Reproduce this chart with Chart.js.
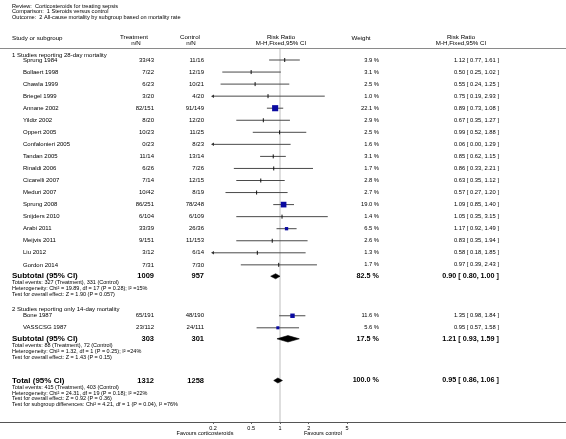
<!DOCTYPE html>
<html>
<head>
<meta charset="utf-8">
<script src="https://cdn.jsdelivr.net/npm/chart.js@4.4.1/dist/chart.umd.min.js"></script>
<style>
html, body { margin: 0; padding: 0; background: #fff; }
canvas { display: block; }
</style>
</head>
<body>
<canvas id="forest" width="566" height="439"></canvas>
<script>
// ---- data ----
const studies1 = ['Sprung 1984', 'Bollaert 1998', 'Chawla 1999', 'Briegel 1999', 'Annane 2002', 'Yildiz 2002',
  'Oppert 2005', 'Confalonieri 2005', 'Tandan 2005', 'Rinaldi 2006', 'Cicarelli 2007', 'Meduri 2007',
  'Sprung 2008', 'Snijders 2010', 'Arabi 2011', 'Meijvis 2011', 'Liu 2012', 'Gordon 2014'];
const treat1 = ['33/43', '7/22', '6/23', '3/20', '82/151', '8/20', '10/23', '0/23', '11/14', '6/26', '7/14', '10/42',
  '86/251', '6/104', '33/39', '9/151', '3/12', '7/31'];
const control1 = ['11/16', '12/19', '10/21', '4/20', '91/149', '12/20', '11/25', '8/23', '13/14', '7/26', '12/15', '8/19',
  '78/248', '6/109', '26/36', '11/153', '6/14', '7/30'];
const weight1 = [3.9, 3.1, 2.5, 1.0, 22.1, 2.9, 2.5, 1.6, 3.1, 1.7, 2.8, 2.7, 19.0, 1.4, 6.5, 2.6, 1.3, 1.7];
const rr1 = [1.12, 0.50, 0.55, 0.75, 0.89, 0.67, 0.99, 0.06, 0.85, 0.86, 0.63, 0.57, 1.09, 1.05, 1.17, 0.83, 0.58, 0.97];
const lo1 = [0.77, 0.25, 0.24, 0.19, 0.73, 0.35, 0.52, 0.00, 0.62, 0.33, 0.35, 0.27, 0.85, 0.35, 0.92, 0.35, 0.18, 0.39];
const hi1 = [1.61, 1.02, 1.25, 2.93, 1.08, 1.27, 1.88, 1.29, 1.15, 2.21, 1.12, 1.20, 1.40, 3.15, 1.49, 1.94, 1.85, 2.43];

const studies2 = ['Bone 1987', 'VASSCSG 1987'];
const treat2 = ['65/191', '23/112'];
const control2 = ['48/190', '24/111'];
const weight2 = [11.6, 5.6];
const rr2 = [1.35, 0.95];
const lo2 = [0.98, 0.57];
const hi2 = [1.84, 1.58];

const sumLabels = ['Subtotal (95% CI)', 'Subtotal (95% CI)', 'Total (95% CI)'];
const sumTreatN = [1009, 303, 1312];
const sumControlN = [957, 301, 1258];
const sumWeight = [82.5, 17.5, 100.0];
const sumRR = [0.90, 1.21, 0.95];
const sumLo = [0.80, 0.93, 0.86];
const sumHi = [1.00, 1.59, 1.06];

const stats1 = ['Total events: 327 (Treatment), 331 (Control)',
  'Heterogeneity: Chi\u00B2 = 19.89, df = 17 (P = 0.28); I\u00B2 =15%',
  'Test for overall effect: Z = 1.90 (P = 0.057)'];
const stats2 = ['Total events: 88 (Treatment), 72 (Control)',
  'Heterogeneity: Chi\u00B2 = 1.32, df = 1 (P = 0.25); I\u00B2 =24%',
  'Test for overall effect: Z = 1.43 (P = 0.15)'];
const statsTotal = ['Total events: 415 (Treatment), 403 (Control)',
  'Heterogeneity: Chi\u00B2 = 24.31, df = 19 (P = 0.18); I\u00B2 =22%',
  'Test for overall effect: Z = 0.92 (P = 0.36)',
  'Test for subgroup differences: Chi\u00B2 = 4.21, df = 1 (P = 0.04), I\u00B2 =76%'];

const xTicks = [0.2, 0.5, 1, 2, 5];

// ---- layout (row positions, page pixels) ----
const TOP = 48, BOTTOM = 422;
const STEP = 12.05, STAT = 5.8;
const ySec1 = 55.3;
const yRows1 = studies1.map((s, i) => 60 + i * STEP);
const ySub1 = yRows1[yRows1.length - 1] + 11.4;
const ySec2 = ySub1 + 6.7 + 2 * STAT + 15.2;
const yRows2 = studies2.map((s, i) => ySec2 + 6 + i * STEP);
const ySub2 = yRows2[yRows2.length - 1] + 11;
const yTotal = ySub2 + 6.5 + 2 * STAT + 23.6;
const ySums = [ySub1, ySub2, yTotal];

const X_MIN = xTicks[0], X_MAX = xTicks[xTicks.length - 1];
const FONT = '"Liberation Sans", Arial, sans-serif';

const allRR = rr1.concat(rr2), allLo = lo1.concat(lo2), allHi = hi1.concat(hi2);
const allW = weight1.concat(weight2), allY = yRows1.concat(yRows2);

// confidence interval segments, split by gaps
const ciPts = [];
allRR.forEach((r, i) => {
  ciPts.push({ x: Math.max(allLo[i], X_MIN), y: allY[i] });
  ciPts.push({ x: Math.min(allHi[i], X_MAX), y: allY[i] });
  ciPts.push({ x: null, y: null });
});
const estPts = allRR.map((r, i) => ({ x: r, y: allY[i], w: allW[i] })).filter(p => p.x >= X_MIN);
const arrowPts = allLo.map((l, i) => ({ x: X_MIN, y: allY[i] })).filter((p, i) => allLo[i] < X_MIN);

const diamonds = sumRR.map((r, k) => {
  const h = k === 1 ? 3.2 : 2.5;
  const y = ySums[k];
  return {
    data: [{ x: sumLo[k], y }, { x: r, y: y - h }, { x: sumHi[k], y }, { x: r, y: y + h }, { x: sumLo[k], y }],
    showLine: true, fill: 'shape', backgroundColor: '#000', borderColor: '#000', borderWidth: 0.6,
    pointRadius: 0, order: 1
  };
});

const isBox = c => c.raw && c.raw.w >= 5;

const textPlugin = {
  id: 'forestText',
  afterDraw(chart) {
    const g = chart.ctx;
    const Y = v => chart.scales.y.getPixelForValue(v);
    const put = (s, x, y, align, size, bold) => {
      g.font = (bold ? 'bold ' : '') + size + 'px ' + FONT;
      g.textAlign = align;
      g.fillText(s, x, Y(y));
    };
    g.save();
    g.fillStyle = '#000';
    g.textBaseline = 'middle';

    // title block
    g.font = '5.6px ' + FONT;
    g.textAlign = 'left';
    g.fillText('Review:  Corticosteroids for treating sepsis', 12, 6);
    g.fillText('Comparison:  1 Steroids versus control', 12, 11.5);
    g.fillText('Outcome:  2 All-cause mortality by subgroup based on mortality rate', 12, 17);

    // column headers
    g.font = '6.2px ' + FONT;
    g.fillText('Study or subgroup', 12, 38.5);
    g.textAlign = 'center';
    g.fillText('Treatment', 134, 37.7); g.fillText('n/N', 136, 43.5);
    g.fillText('Control', 190, 37.7); g.fillText('n/N', 191, 43.5);
    g.fillText('Risk Ratio', 281, 37.7); g.fillText('M-H,Fixed,95% CI', 281, 43.5);
    g.fillText('Weight', 361, 38.5);
    g.fillText('Risk Ratio', 461, 37.7); g.fillText('M-H,Fixed,95% CI', 461, 43.5);

    // separator and bottom axis line
    g.strokeStyle = '#8a8a8a'; g.lineWidth = 1;
    g.beginPath(); g.moveTo(0, 48.5); g.lineTo(566, 48.5); g.stroke();
    g.strokeStyle = '#555';
    g.beginPath(); g.moveTo(0, chart.chartArea.bottom + 0.5); g.lineTo(566, chart.chartArea.bottom + 0.5); g.stroke();

    // section headers
    put('1 Studies reporting 28-day mortality', 12, ySec1, 'left', 6);
    put('2 Studies reporting only 14-day mortality', 12, ySec2, 'left', 6);

    const ciText = (r, l, h) => r.toFixed(2) + ' [ ' + l.toFixed(2) + ', ' + h.toFixed(2) + ' ]';
    const rowText = (names, tr, co, w, r, l, h, ys) => names.forEach((n, i) => {
      put(n, 23, ys[i], 'left', 6);
      put(tr[i], 154, ys[i], 'right', 6);
      put(co[i], 204, ys[i], 'right', 6);
      put(w[i].toFixed(1) + ' %', 379, ys[i], 'right', 5.8);
      put(ciText(r[i], l[i], h[i]), 499, ys[i], 'right', 5.8);
    });
    rowText(studies1, treat1, control1, weight1, rr1, lo1, hi1, yRows1);
    rowText(studies2, treat2, control2, weight2, rr2, lo2, hi2, yRows2);

    // summary rows
    sumLabels.forEach((s, k) => {
      const y = ySums[k];
      put(s, 12, y, 'left', 8, true);
      put(String(sumTreatN[k]), 154, y, 'right', 7.5, true);
      put(String(sumControlN[k]), 204, y, 'right', 7.5, true);
      put(sumWeight[k].toFixed(1) + ' %', 379, y, 'right', 7.2, true);
      put(ciText(sumRR[k], sumLo[k], sumHi[k]), 499, y, 'right', 7.2, true);
    });
    [stats1, stats2, statsTotal].forEach((lines, k) => {
      lines.forEach((s, j) => put(s, 12, ySums[k] + 6.7 + j * STAT, 'left', 5.5));
    });

    // favours labels
    const xs = chart.scales.x;
    g.font = '5.5px ' + FONT;
    g.textAlign = 'center';
    g.fillText('Favours corticosteroids', xs.getPixelForValue(X_MIN) - 8, 433);
    g.textAlign = 'left';
    g.fillText('Favours control', xs.getPixelForValue(1) + 24, 433);
    g.restore();
  }
};

new Chart(document.getElementById('forest'), {
  type: 'scatter',
  data: {
    datasets: [
      { // line of no effect
        data: [{ x: 1, y: TOP }, { x: 1, y: BOTTOM }], showLine: true,
        borderColor: '#d4d4d4', borderWidth: 1.5, pointRadius: 0, order: 10
      },
      { // confidence intervals
        data: ciPts, showLine: true, spanGaps: false,
        borderColor: '#4a4a4a', borderWidth: 1, pointRadius: 0, order: 5
      },
      { // point estimates
        data: estPts,
        pointStyle: c => isBox(c) ? 'rect' : 'line',
        pointRadius: c => isBox(c) ? 1.3 * Math.sqrt(c.raw.w) / Math.SQRT2 : 2,
        pointRotation: c => isBox(c) ? 0 : 90,
        backgroundColor: '#0a0aa0',
        borderColor: c => isBox(c) ? '#0a0aa0' : '#111',
        borderWidth: c => isBox(c) ? 0 : 1,
        order: 2
      },
      { // truncated intervals
        data: arrowPts, pointStyle: 'triangle', pointRotation: 270, pointRadius: 2,
        backgroundColor: '#333', borderWidth: 0, clip: false, order: 3
      },
      ...diamonds
    ]
  },
  options: {
    responsive: false,
    animation: false,
    devicePixelRatio: 1,
    layout: { padding: { left: 213, right: 219, top: TOP, bottom: 0 } },
    plugins: { legend: { display: false }, tooltip: { enabled: false } },
    scales: {
      x: {
        type: 'logarithmic', min: X_MIN, max: X_MAX,
        afterBuildTicks: s => { s.ticks = xTicks.map(v => ({ value: v })); },
        afterFit: s => { s.height = 439 - BOTTOM; },
        ticks: { callback: v => String(v), autoSkip: false, maxRotation: 0, padding: 1,
          color: '#000', font: { family: FONT, size: 5.5 } },
        grid: { drawOnChartArea: false, drawTicks: true, tickLength: 2, color: '#666' },
        border: { display: false }
      },
      y: { type: 'linear', min: TOP, max: BOTTOM, reverse: true, display: false }
    }
  },
  plugins: [textPlugin]
});
</script>
</body>
</html>
